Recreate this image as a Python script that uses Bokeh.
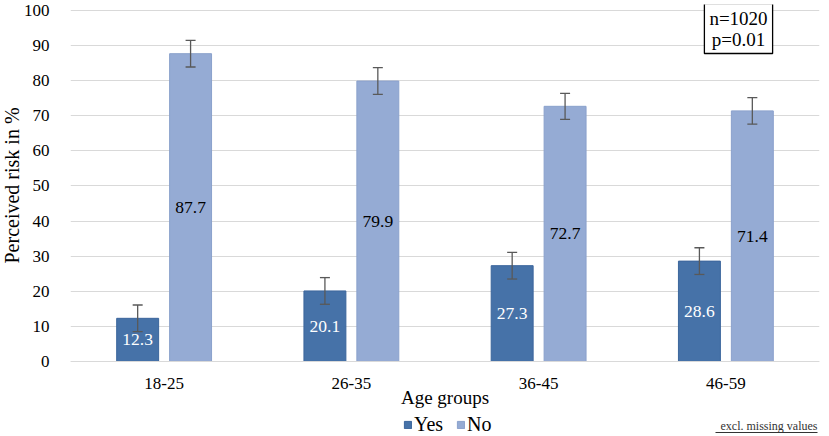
from bokeh.plotting import figure
from bokeh.models import (ColumnDataSource, FactorRange, Range1d, FixedTicker, Whisker,
                          TeeHead, Legend, LegendItem, Label, Title, BoxAnnotation)
from bokeh.transform import dodge
from bokeh.core.properties import value
from bokeh.embed import file_html
from bokeh.resources import INLINE

# ---- data ----
categories = ["18-25", "26-35", "36-45", "46-59"]
yes_values = [12.3, 20.1, 27.3, 28.6]
no_values = [87.7, 79.9, 72.7, 71.4]
yes_errors = [3.8, 3.8, 3.8, 3.8]
no_errors = [3.8, 3.8, 3.7, 3.8]
y_ticks = [0, 10, 20, 30, 40, 50, 60, 70, 80, 90, 100]
series_names = ["Yes", "No"]
x_title = "Age groups"
y_title = "Perceived risk in %"
stats_note = "n=1020\np=0.01"
footnote = "excl. missing values"

FONT = "'Liberation Serif', 'Times New Roman', serif"
YES_FILL, YES_LINE = "#4672A8", "#3B659C"
NO_FILL, NO_LINE = "#95ABD4", "#8AA1CC"
ERR = "#595959"
OFF = 0.1413
BW = 0.224

src = ColumnDataSource(dict(
    cat=categories,
    yes=yes_values, no=no_values,
    yes_up=[v + e for v, e in zip(yes_values, yes_errors)],
    yes_lo=[v - e for v, e in zip(yes_values, yes_errors)],
    no_up=[v + e for v, e in zip(no_values, no_errors)],
    no_lo=[v - e for v, e in zip(no_values, no_errors)],
    yes_mid=[v / 2 for v in yes_values],
    no_mid=[v / 2 for v in no_values],
    yes_txt=[f"{v:.1f}" for v in yes_values],
    no_txt=[f"{v:.1f}" for v in no_values],
))

# frame covers 4..436 px vertically; value 0 sits at 361 px, 100 at 10 px
p = figure(x_range=FactorRange(*categories), y_range=Range1d(-21.37, 101.71),
           width=829, height=436, output_backend="svg", toolbar_location=None,
           min_border_left=70, min_border_right=10, min_border_top=4, min_border_bottom=0)
p.outline_line_color = None
p.background_fill_color = "white"

r_yes = p.vbar(x=dodge("cat", -OFF, range=p.x_range), top="yes", bottom=0, width=BW, source=src,
               fill_color=YES_FILL, line_color=YES_LINE, line_width=1)
r_no = p.vbar(x=dodge("cat", OFF, range=p.x_range), top="no", bottom=0, width=BW, source=src,
              fill_color=NO_FILL, line_color=NO_LINE, line_width=1)

for off, up, lo in ((-OFF, "yes_up", "yes_lo"), (OFF, "no_up", "no_lo")):
    w = Whisker(source=src, base=dodge("cat", off, range=p.x_range), upper=up, lower=lo,
                line_color=ERR, line_width=1.3, level="overlay",
                upper_head=TeeHead(size=10, line_color=ERR, line_width=1.3),
                lower_head=TeeHead(size=10, line_color=ERR, line_width=1.3))
    p.add_layout(w)

p.text(x=dodge("cat", -OFF, range=p.x_range), y="yes_mid", text="yes_txt", source=src,
       text_font=value(FONT), text_font_size="17.5px", text_color="white",
       text_align="center", text_baseline="middle")
p.text(x=dodge("cat", OFF, range=p.x_range), y="no_mid", text="no_txt", source=src,
       text_font=value(FONT), text_font_size="17.5px", text_color="black",
       text_align="center", text_baseline="middle")

# axes
p.yaxis.ticker = FixedTicker(ticks=y_ticks)
for ax in (p.xaxis, p.yaxis):
    ax.major_tick_line_color = None
    ax.minor_tick_line_color = None
    ax.major_label_text_font = FONT
    ax.major_label_text_font_size = "17px"
    ax.major_label_text_color = "black"
    ax.axis_label_text_font = FONT
    ax.axis_label_text_font_style = "normal"
    ax.axis_label_text_color = "black"
p.yaxis.axis_line_color = None
p.yaxis.major_label_standoff = 15
p.xaxis.fixed_location = 0
p.xaxis.axis_line_color = "#D9D9D9"
p.xaxis.major_label_standoff = 11
p.xaxis.axis_label = x_title
p.xaxis.axis_label_text_font_size = "19px"
p.xaxis.axis_label_standoff = -6
p.xgrid.grid_line_color = None
p.ygrid.grid_line_color = "#D9D9D9"
p.ygrid.grid_line_width = 1

ytitle = Title(text=y_title, align="left", offset=173, standoff=-4,
               text_font=FONT, text_font_size="20px", text_font_style="normal",
               text_color="black")
p.add_layout(ytitle, "left")

legend = Legend(items=[LegendItem(label=series_names[0], renderers=[r_yes]),
                       LegendItem(label=series_names[1], renderers=[r_no])],
                location=(333, 0), orientation="horizontal",
                label_text_font=FONT, label_text_font_size="20px", label_text_color="black",
                glyph_width=9, glyph_height=9, label_standoff=2, spacing=13,
                padding=0, margin=0, border_line_color=None, background_fill_alpha=0)
p.add_layout(legend)

box = Label(x=668, y=408, x_units="screen", y_units="screen", text=stats_note,
            text_align="center", text_baseline="middle", text_font=FONT,
            text_font_size="19px", text_color="black", text_line_height=1.0,
            border_line_color="black", border_line_width=1.3,
            background_fill_color="white",
            padding=dict(left=5, right=5, top=4, bottom=4))
p.add_layout(box)

note = Label(x=747, y=11, x_units="screen", y_units="screen", text=footnote,
             text_align="right", text_baseline="middle", text_font=FONT,
             text_font_size="12px", text_color="#333333")
p.add_layout(note)
underline = BoxAnnotation(left=645, right=747, bottom=3.5, top=4.5,
                          left_units="screen", right_units="screen",
                          bottom_units="screen", top_units="screen",
                          fill_color="#333333", fill_alpha=1, line_color=None)
p.add_layout(underline)

open("out.html", "w").write(file_html(p, INLINE))
